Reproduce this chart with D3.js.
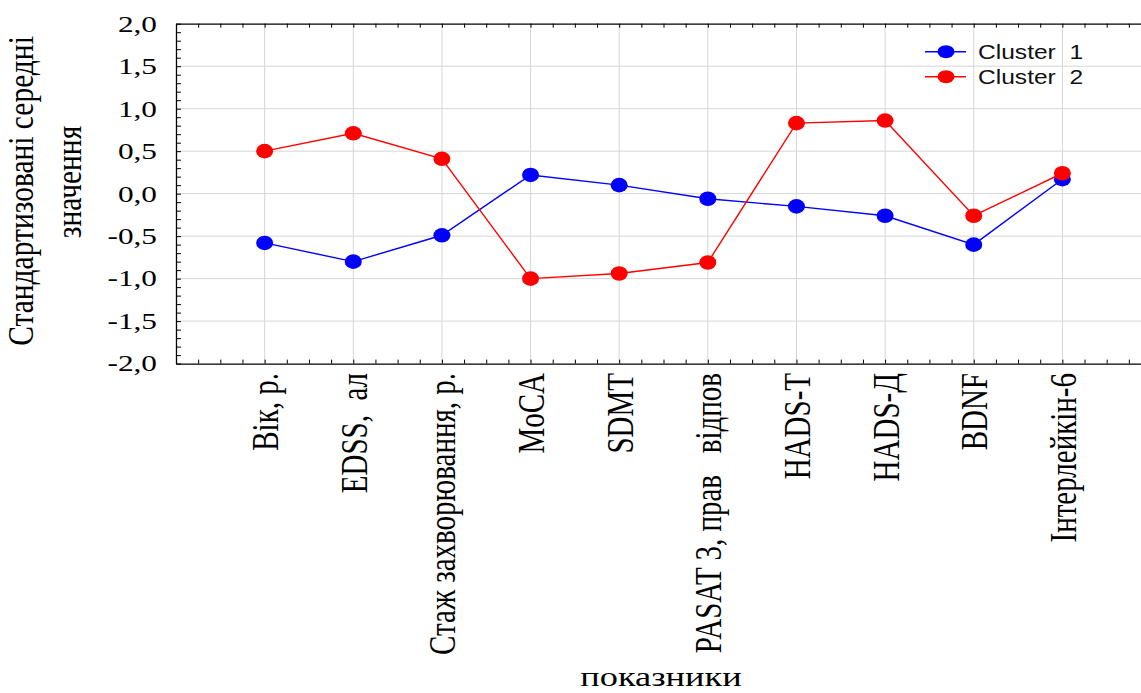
<!DOCTYPE html>
<html>
<head>
<meta charset="utf-8">
<script src="https://cdn.jsdelivr.net/npm/d3@7"></script>
<style>
  html, body { margin: 0; padding: 0; background: #fff; }
  svg { display: block; }
  text { white-space: pre; }
</style>
</head>
<body>
<svg id="chart" width="1141" height="693"></svg>
<script>
// Indicators (x axis categories)
const categories = ["Вік, р.", "EDSS,  ал", "Стаж захворювання, р.", "MoCA", "SDMT",
  "PASAT 3, прав   відпов", "HADS-Т", "HADS-Д", "BDNF", "Інтерлейкін-6"];

// Standardised means per cluster
const cluster1 = [-0.58, -0.80, -0.49, 0.22, 0.10, -0.06, -0.15, -0.26, -0.60, 0.17];
const cluster2 = [0.50, 0.71, 0.41, -1.00, -0.94, -0.81, 0.83, 0.86, -0.26, 0.24];

const seriesNames = ["Cluster  1", "Cluster  2"];
const seriesColors = ["#0000ff", "#ff0000"];

const yTickValues = [-2, -1.5, -1, -0.5, 0, 0.5, 1, 1.5, 2];
const yTickLabels = ["-2,0", "-1,5", "-1,0", "-0,5", "0,0", "0,5", "1,0", "1,5", "2,0"];

const yTitleLines = ["Стандартизовані середні", "значення"];
const xTitle = "показники";

const SX = 1.3; // horizontal glyph stretch used for all text
const serif = "'Liberation Serif', 'Times New Roman', serif";
const sans = "'Liberation Sans', Arial, sans-serif";

const svg = d3.select("#chart");
const plotL = 176, plotR = 1151, plotT = 23.7, plotB = 363.6;

const x = d3.scaleLinear().domain([0, categories.length + 1]).range([plotL, plotR]);
const y = d3.scaleLinear().domain([-2, 2]).range([plotB, plotT]);

// grid
const grid = svg.append("g").attr("stroke", "#d6d6d6").attr("stroke-width", 1);
grid.selectAll("line.h").data(yTickValues.filter(v => v > -2 && v < 2)).join("line")
  .attr("class", "h")
  .attr("x1", plotL).attr("x2", plotR)
  .attr("y1", d => y(d)).attr("y2", d => y(d));
grid.selectAll("line.v").data(categories).join("line")
  .attr("class", "v")
  .attr("x1", (d, i) => x(i + 1)).attr("x2", (d, i) => x(i + 1))
  .attr("y1", plotT).attr("y2", plotB);

// axes with inward minor ticks
const minorY = d3.range(-20, 21).map(k => k / 10);
svg.append("g").attr("transform", `translate(${plotL},0)`)
  .call(d3.axisRight(y).tickValues(minorY).tickSize(5).tickFormat("").tickSizeOuter(0))
  .call(g => g.selectAll("line").attr("stroke", "#000"))
  .call(g => g.select(".domain").attr("stroke", "#000").attr("stroke-width", 1.3));

const minorX = d3.range(0, (categories.length + 1) * 4).map(k => k / 4);
svg.append("g").attr("transform", `translate(0,${plotB})`)
  .call(d3.axisTop(x).tickValues(minorX).tickSize(4).tickFormat("").tickSizeOuter(0))
  .call(g => g.selectAll("line").attr("stroke", "#000"))
  .call(g => g.select(".domain").attr("stroke", "#000").attr("stroke-width", 1.3));
svg.append("g").attr("transform", `translate(0,${plotT})`)
  .call(d3.axisBottom(x).tickValues(minorX).tickSize(4).tickFormat("").tickSizeOuter(0))
  .call(g => g.selectAll("line").attr("stroke", "#000"))
  .call(g => g.select(".domain").attr("stroke", "#000").attr("stroke-width", 1.3));

// y tick labels
svg.append("g").attr("transform", `translate(${plotL},0)`)
  .call(d3.axisLeft(y).tickValues(yTickValues).tickSize(0).tickPadding(14)
    .tickFormat((d, i) => yTickLabels[i]))
  .call(g => g.select(".domain").remove())
  .call(g => g.selectAll("text")
    .attr("fill", "#000")
    .style("font-family", serif).style("font-size", "23px")
    .attr("transform", `scale(1.36,1)`));

// x category labels (rotated)
svg.append("g").selectAll("text").data(categories).join("text")
  .attr("transform", (d, i) => `translate(${x(i + 1)},373) scale(${SX},1) rotate(-90)`)
  .attr("x", 0).attr("y", 10.4)
  .attr("text-anchor", "end")
  .style("font-family", serif).style("font-size", "29px")
  .attr("fill", "#000")
  .text(d => d);

// axis titles
svg.append("text")
  .attr("transform", `translate(33,191) scale(${SX * 0.93},1) rotate(-90)`)
  .attr("text-anchor", "middle")
  .style("font-family", serif).style("font-size", "29.5px")
  .text(yTitleLines[0]);
svg.append("text")
  .attr("transform", `translate(81,182) scale(${SX * 0.93},1) rotate(-90)`)
  .attr("text-anchor", "middle")
  .style("font-family", serif).style("font-size", "29.5px")
  .text(yTitleLines[1]);
svg.append("text")
  .attr("transform", `translate(661,686) scale(${SX},1)`)
  .attr("text-anchor", "middle")
  .style("font-family", serif).style("font-size", "28px")
  .text(xTitle);

// series
const line = d3.line().x((d, i) => x(i + 1)).y(d => y(d));
[cluster1, cluster2].forEach((vals, s) => {
  const g = svg.append("g");
  g.append("path").datum(vals)
    .attr("d", line).attr("fill", "none")
    .attr("stroke", seriesColors[s]).attr("stroke-width", 1.4);
  g.selectAll("ellipse").data(vals).join("ellipse")
    .attr("cx", (d, i) => x(i + 1)).attr("cy", d => y(d))
    .attr("rx", 8.5).attr("ry", 7.3)
    .attr("fill", seriesColors[s]);
});

// legend
const legend = svg.append("g");
seriesNames.forEach((name, s) => {
  const ly = 51.7 + s * 25;
  legend.append("line").attr("x1", 925).attr("x2", 966).attr("y1", ly).attr("y2", ly)
    .attr("stroke", seriesColors[s]).attr("stroke-width", 1.4);
  legend.append("ellipse").attr("cx", 946).attr("cy", ly).attr("rx", 8.5).attr("ry", 6.5)
    .attr("fill", seriesColors[s]);
  legend.append("text")
    .attr("transform", `translate(978,${ly + 7}) scale(1.26,1)`)
    .style("font-family", sans).style("font-size", "19.5px")
    .attr("fill", "#111")
    .text(name);
});
</script>
</body>
</html>
